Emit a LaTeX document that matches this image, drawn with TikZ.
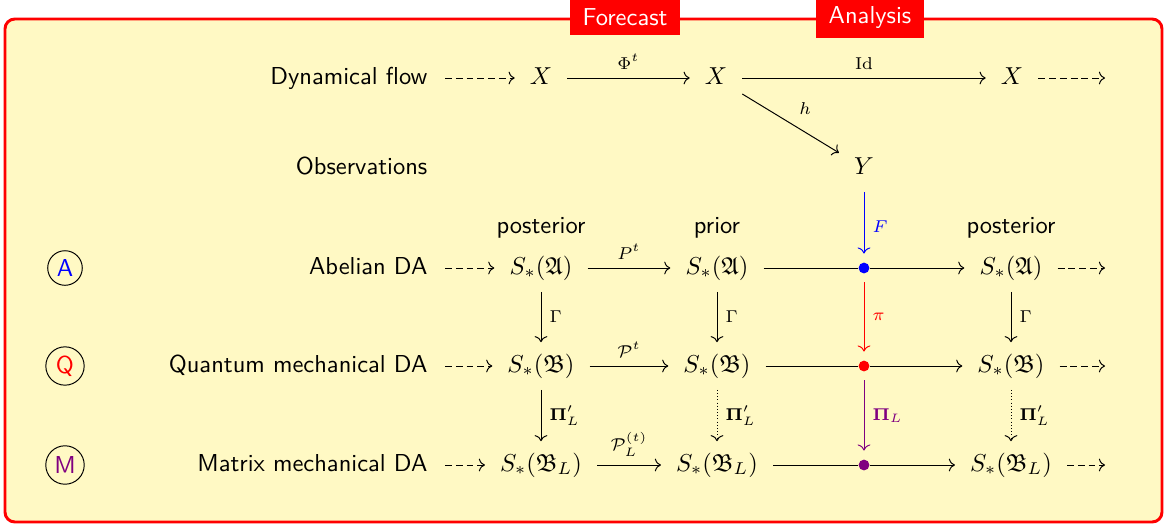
\documentclass[tikz,border=0pt]{standalone}
\usepackage{amsmath,amssymb}
\usetikzlibrary{arrows.meta}
\definecolor{panelyellow}{RGB}{255,249,196}
\definecolor{daviolet}{rgb}{0.5,0,0.5}
\tikzset{
  >={Computer Modern Rightarrow},
  rowlabel/.style={anchor=east, font=\sffamily, inner xsep=7pt, text height=7.5pt, text depth=2.5pt},
  obj/.style={inner xsep=6pt, inner ysep=4.5pt, text height=7.5pt, text depth=2.5pt},
  toplabel/.style={font=\sffamily},
  badge/.style={draw, circle, inner sep=1.6pt, font=\sffamily},
  dadot/.style={circle, inner sep=0pt, minimum size=4.4pt},
  tag/.style={fill=red, text=white, font=\sffamily, inner xsep=5pt, inner ysep=3.8pt},
  lbl/.style={font=\scriptsize},
  gap/.style={shorten <=3.5pt, shorten >=3.5pt},
  dashedarr/.style={->, dash pattern=on 2.8pt off 1.6pt},
  dottedarr/.style={->, dash pattern=on 0.4pt off 0.9pt},
}
\begin{document}
\begin{tikzpicture}[x=0.408pt,y=-0.408pt]
\useasboundingbox (0,0) rectangle (1166,529);
% panel
\draw[red, line width=1.2pt, rounded corners=4pt, fill=panelyellow] (5,19) rectangle (1162,522);
\node[tag] (fc) at (625,17.5) {Forecast};
\node[tag] (an) at (870,17.5) {Analysis};

% row labels
\node[rowlabel] (flowlab) at (445,78) {Dynamical flow};
\node[rowlabel] (obslab) at (445,168) {Observations};
\node[rowlabel] (ablab) at (445,268) {Abelian DA};
\node[rowlabel] (qulab) at (445,366) {Quantum mechanical DA};
\node[rowlabel] (malab) at (445,465) {Matrix mechanical DA};

\node[badge, text=blue] (ca) at (65,268) {A};
\node[badge, text=red] (cq) at (65,366) {Q};
\node[badge, text=daviolet] (cm) at (65,465) {M};

% dynamics and observations
\node[obj] (x1) at (541,78) {$X$};
\node[obj] (x2) at (716,78) {$X$};
\node[obj] (x3) at (1012,78) {$X$};
\node[obj] (y1) at (864,168) {$Y$};
\coordinate (x3end) at (1105,78);

\node[toplabel] (post1) at (541,228) {posterior};
\node[toplabel] (prior) at (717,228) {prior};
\node[toplabel] (post2) at (1011,228) {posterior};

% states
\node[obj] (a1) at (541,268) {$S_*(\mathfrak{A})$};
\node[obj] (a2) at (717,268) {$S_*(\mathfrak{A})$};
\node[obj] (a3) at (1011,268) {$S_*(\mathfrak{A})$};
\node[obj] (q1) at (541,366) {$S_*(\mathfrak{B})$};
\node[obj] (q2) at (717,366) {$S_*(\mathfrak{B})$};
\node[obj] (q3) at (1011,366) {$S_*(\mathfrak{B})$};
\node[obj] (m1) at (541,465) {$S_*(\mathfrak{B}_L)$};
\node[obj] (m2) at (717,465) {$S_*(\mathfrak{B}_L)$};
\node[obj] (m3) at (1011,465) {$S_*(\mathfrak{B}_L)$};
\coordinate (a3end) at (1105,268);
\coordinate (q3end) at (1105,366);
\coordinate (m3end) at (1105,465);

\node[dadot, fill=blue] (da) at (864,268) {};
\node[dadot, fill=red] (dq) at (864,366) {};
\node[dadot, fill=daviolet] (dm) at (864,465) {};

% incoming and outgoing
\draw[dashedarr] (flowlab) -- (x1);
\draw[dashedarr] (ablab) -- (a1);
\draw[dashedarr] (qulab) -- (q1);
\draw[dashedarr] (malab) -- (m1);
\draw[dashedarr] (x3) -- (x3end);
\draw[dashedarr] (a3) -- (a3end);
\draw[dashedarr] (q3) -- (q3end);
\draw[dashedarr] (m3) -- (m3end);

% forecast
\draw[->] (x1) -- node[lbl, above] {$\Phi^t$} (x2);
\draw[->] (a1) -- node[lbl, above] {$P^t$} (a2);
\draw[->] (q1) -- node[lbl, above] {$\mathcal{P}^t$} (q2);
\draw[->] (m1) -- node[lbl, above] {$\mathcal{P}_L^{(t)}$} (m2);

% analysis
\draw[->] (x2) -- node[lbl, above] {$\mathrm{Id}$} (x3);
\draw[->] (x2) -- node[lbl, above right] {$h$} (y1);
\draw[->] (a2) -- (da) -- (a3);
\draw[->] (q2) -- (dq) -- (q3);
\draw[->] (m2) -- (dm) -- (m3);
\draw[blue, ->, shorten >=3.5pt] (y1) -- node[lbl, right] {$F$} (da);
\draw[red, ->, gap] (da) -- node[lbl, right] {$\pi$} (dq);
\draw[daviolet, ->, gap] (dq) -- node[lbl, right] {$\boldsymbol{\Pi}_L$} (dm);

% vertical maps
\draw[->] (a1) -- node[lbl, right] {$\Gamma$} (q1);
\draw[->] (a2) -- node[lbl, right] {$\Gamma$} (q2);
\draw[->] (a3) -- node[lbl, right] {$\Gamma$} (q3);
\draw[->] (q1) -- node[lbl, right] {$\boldsymbol{\Pi}'_L$} (m1);
\draw[dottedarr] (q2) -- node[lbl, right] {$\boldsymbol{\Pi}'_L$} (m2);
\draw[dottedarr] (q3) -- node[lbl, right] {$\boldsymbol{\Pi}'_L$} (m3);
\end{tikzpicture}
\end{document}
